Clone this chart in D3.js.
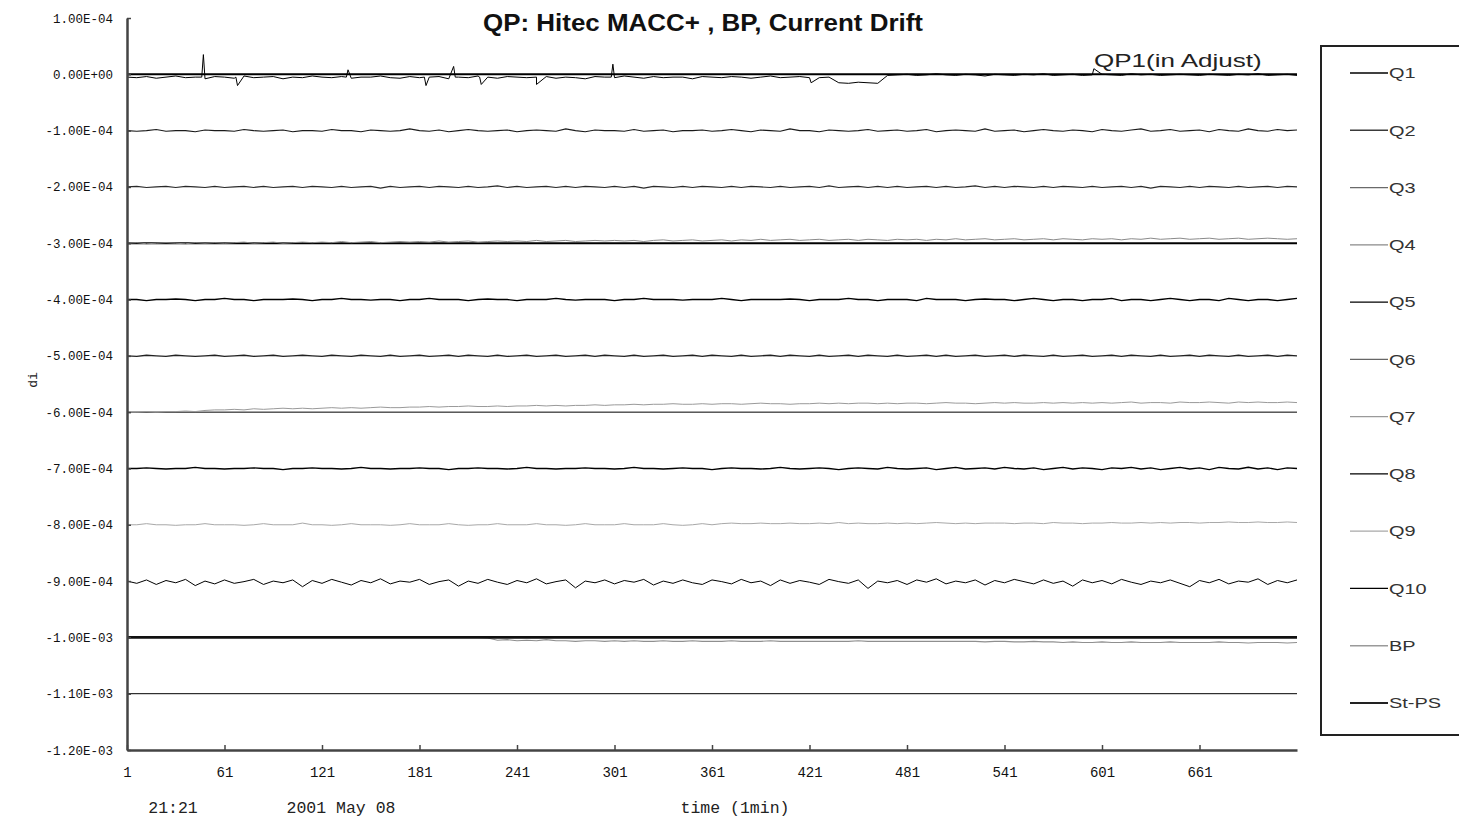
<!DOCTYPE html>
<html><head><meta charset="utf-8">
<script src="https://cdn.jsdelivr.net/npm/d3@7"></script>
<style>
html,body{margin:0;padding:0;background:#fff;}
svg{display:block;}
</style></head>
<body>
<svg id="chart" width="1459" height="820"></svg>
<script>
// ---------- DATA ----------
const title = "QP: Hitec MACC+ , BP, Current Drift";
const seriesNames = ["Q1","Q2","Q3","Q4","Q5","Q6","Q7","Q8","Q9","Q10","BP","St-PS"];
const seriesOffsets = [0,-1e-4,-2e-4,-3e-4,-4e-4,-5e-4,-6e-4,-7e-4,-8e-4,-9e-4,-1e-3,-1e-3];
// sample minutes (every 6 min from 1 to 721)
const sampleMinutes = d3.range(1, 722, 6);
// deviations from offset, in units of 1e-6, one per sample minute
const q1 = [-5,-6,-4,-7,-5,-3,-6,-5,-8,-4, -5,-7,-3,-6,-5,-4,-8,-5,-6,-3, -5,-6,-4,-7,-5,-5,-3,-6,-7,-4,
  -6,-5,-4,-8,-5,-6,-3,-5,-7,-4, -5,-6,-5,-4,-7,-5,-6,-8,-4,-5, -6,-3,-5,-7,-4,-6,-5,-5,-8,-4,
  -5,-6,-4,-5,-7,-5,-3,-6,-5,-4, -6,-6,-5,-15,-16,-14,-15,-16,-2,-1, 0,-2,-1,1,-1,-2,0,-1,-3,0,
  -1,-2,0,-1,1,-2,-1,0,-2,-1, 0,-1,-2,1,-1,0,-2,-1,0,-1, -2,0,-1,-2,0,-1,1,-2,-1,0,-2];
// extra short events for Q1: [minute, deviation]
const q1Spikes = [[47,-5],[48,35],[68,-5],[69,-20],[136,-5],[137,8],[184,-5],[185,-20],[202,14],[203,-5],
  [218,-5],[219,-18],[253,-18],[299,-5],[300,18],[422,-15],[596,10]];
const q2 = [0,-1,0,2,-1,0,0,-2,1,0, 0,-1,2,0,-1,0,1,-2,0,0, -1,2,0,0,-2,1,0,-1,0,3, 0,-1,1,-2,0,2,0,-1,0,1,
  -2,0,1,0,-1,3,0,-2,1,0, 0,-1,2,-1,0,1,-2,0,0,1, -1,0,2,0,-2,1,0,-1,3,0, 0,-2,1,0,-1,0,2,-1,0,1,
  -1,0,2,-2,0,1,0,-1,3,-1, 0,1,-2,0,2,0,-1,1,0,-2, 2,0,-1,1,3,-1,0,2,-1,0, 1,-2,2,0,-1,3,0,-1,2,0,1];
const q3 = [0,1,-1,0,1,-1,1,0,-1,1, -1,0,1,-1,1,-1,0,1,-1,1, 0,-1,1,-1,0,1,-2,1,-1,0, 1,-1,1,0,-1,1,-1,0,2,-1,
  1,-1,0,1,-1,1,-1,1,0,-1, 1,-1,1,-2,1,0,-1,1,-1,1, 0,-1,1,-1,1,0,-1,1,-1,0, 1,-1,2,-1,0,1,-1,1,-1,1,
  -1,0,1,-1,1,-1,0,2,-1,1, -1,1,0,-1,1,-1,1,0,-1,1, -1,0,1,-1,1,-2,1,0,-1,1, -1,1,0,-1,1,-1,0,1,-1,1,0];
const q4 = [0,1,-1,0,1,0,-1,1,0,1, 0,1,2,0,1,2,0,1,2,1, 2,1,3,1,2,3,1,2,3,2, 3,2,4,2,3,4,2,3,4,3,
  4,3,5,3,4,5,3,4,5,4, 5,4,5,3,5,6,4,5,6,4, 5,6,4,6,5,7,5,6,7,5, 6,7,5,6,7,5,7,6,5,7,
  6,7,5,7,6,8,6,7,8,6, 7,8,6,7,8,6,8,7,6,8, 7,8,6,8,7,9,7,8,9,7, 8,9,7,8,9,7,8,9,8,7,8];
const q5 = [0,0,-2,0,0,1,0,-2,0,0, 2,0,0,-2,0,0,0,1,0,-2, 0,0,2,0,0,-1,0,0,-2,0, 0,2,0,0,0,-2,0,1,0,0,
  -2,0,0,0,2,0,-1,0,0,0, -2,0,0,2,0,0,0,-1,0,0, 0,2,0,-2,0,0,0,0,1,0, -2,0,0,0,2,0,0,-2,0,0,
  0,-2,2,0,0,0,-2,0,1,0, 0,-2,0,2,0,-2,0,0,-2,0, 0,2,-2,0,0,-2,0,2,0,-2, 0,0,-2,2,0,-2,0,0,-2,0,2];
const q6 = [0,-1,1,0,-1,1,0,-1,0,1, -1,0,1,-1,0,1,-1,0,1,0, -1,1,0,-1,1,0,-1,1,-1,0, 1,-1,0,1,-1,1,0,-1,1,-1,
  0,1,-1,0,1,-1,0,1,-1,1, 0,-1,1,-1,0,1,-1,0,1,-1, 1,0,-1,1,-1,0,1,-1,1,0, -1,1,-1,0,1,-1,1,0,-1,1,
  -1,0,1,-1,1,-1,0,1,-1,0, 1,-1,1,0,-1,1,-1,0,1,-1, 0,1,-1,1,0,-1,1,-1,0,1, -1,1,0,-1,1,-1,0,1,-1,1,0];
const q7 = [0,0,1,0,1,1,2,1,3,4, 4,5,4,6,5,6,7,6,7,6, 7,8,7,8,7,8,9,8,8,9, 9,10,9,10,10,11,10,10,11,10,
  11,11,12,11,12,11,12,12,13,12, 13,13,14,13,14,14,15,14,14,15, 14,15,15,14,15,16,15,15,14,15,
  15,16,15,16,15,16,16,15,16,15, 16,16,15,16,17,16,16,15,16,17, 16,17,16,16,17,16,17,16,17,16,
  17,16,17,18,16,17,17,16,18,17, 17,18,17,16,18,17,18,17,17,18,17];
const q8 = [0,0,1,0,-1,0,0,2,0,0, -1,0,0,1,0,0,-2,0,0,1, 0,0,-1,0,2,0,0,-1,0,0, 1,0,0,-2,0,0,1,0,0,-1,
  0,2,0,0,-1,0,0,1,0,0, -1,0,2,0,0,-1,0,1,0,0, -2,0,1,0,0,-1,0,2,0,-1, 0,1,0,-2,0,1,0,-1,2,0,
  -1,0,1,-2,0,2,-1,0,1,-1, 2,0,-1,1,-2,0,2,-1,1,0, -2,1,0,2,-1,1,-2,0,2,-1, 1,-2,2,0,-1,2,-1,1,-2,1,0];
const q9 = [0,0,2,0,0,-1,0,0,2,0, 0,0,-1,0,2,0,0,0,3,0, 0,-1,0,2,0,0,0,-1,0,2, 0,0,0,2,0,-1,0,0,2,0,
  0,0,2,0,0,-1,0,2,0,0, 0,2,0,0,0,2,0,-1,0,2, 0,2,3,2,2,3,2,2,3,2, 2,3,2,4,2,3,2,2,3,2,
  3,2,3,4,3,2,3,2,3,3, 3,2,3,3,2,4,3,3,2,3, 3,4,3,3,4,3,4,3,4,4, 3,4,4,5,4,4,5,4,4,5,4];
const q10 = [0,-4,2,-6,1,-3,3,-8,0,-5, 2,-4,-1,3,-6,0,-3,2,-10,1, -4,3,-2,-7,1,-3,4,-5,0,-2,
  3,-6,-1,2,-9,0,-4,3,-2,-6, 1,-3,4,-5,-1,2,-12,0,-3,2, -5,1,-2,3,-7,0,-4,2,-3,-6,
  2,-1,-5,3,-3,0,-8,2,-4,1, -2,-6,3,-1,-4,2,-13,0,-3,1, -6,2,-2,4,-5,0,-3,2,-7,1,
  -3,3,-1,-5,2,-4,0,-9,2,-3, 1,-5,3,-2,-6,0,-3,2,-4,-10, 1,-3,3,-5,0,-2,4,-6,1,-3,2];
const bp = [0,0,0,0,0,0,0,0,0,0, 0,0,0,0,0,0,0,0,0,0, 0,0,0,0,0,0,0,0,0,0, 0,0,0,0,0,0,0,-1,-5,-4,
  -6,-5,-6,-4,-6,-6,-7,-6,-6,-7, -6,-7,-6,-7,-7,-6,-7,-7,-6,-7, -7,-7,-6,-7,-7,-7,-6,-7,-7,-7,
  -7,-7,-7,-7,-7,-6,-7,-7,-7,-7, -7,-7,-7,-7,-7,-7,-7,-7,-8,-7, -7,-8,-8,-7,-8,-8,-9,-8,-9,-9,
  -8,-9,-9,-8,-9,-9,-9,-8,-9,-9, -9,-9,-8,-9,-9,-10,-9,-9,-9,-10,-9];
const stps = [0,0,0,0,0,0,0,0,0,0, 0,0,0,0,0,0,0,0,0,0, 0,0,0,0,0,0,0,0,0,0, 0,0,0,0,0,0,0,0,0,0,
  0,0,0,0,0,0,0,0,0,0, 0,0,0,0,0,0,0,0,0,0, 0,0,0,0,0,0,0,0,0,0, 0,0,0,0,0,0,0,0,0,0,
  0,0,0,0,0,0,0,0,0,0, 0,0,0,0,0,0,0,0,0,0, 0,0,0,0,0,0,0,0,0,0, 0,0,0,0,0,0,0,0,0,0,0];
const seriesDevs = [q1,q2,q3,q4,q5,q6,q7,q8,q9,q10,bp,stps];
// reference (zero-drift) lines
const refLevels = [0,-3e-4,-6e-4,-1.1e-3];
const yTicks = [1e-4,0,-1e-4,-2e-4,-3e-4,-4e-4,-5e-4,-6e-4,-7e-4,-8e-4,-9e-4,-1e-3,-1.1e-3,-1.2e-3];
const yTickLabels = ["1.00E-04","0.00E+00","-1.00E-04","-2.00E-04","-3.00E-04","-4.00E-04","-5.00E-04",
  "-6.00E-04","-7.00E-04","-8.00E-04","-9.00E-04","-1.00E-03","-1.10E-03","-1.20E-03"];
const xTicks = [1,61,121,181,241,301,361,421,481,541,601,661];

// ---------- STYLE ----------
const lineColors = ["#000","#1a1a1a","#2a2a2a","#8a8a8a","#000","#222","#9a9a9a","#000","#a8a8a8","#000","#8f8f8f","#111"];
const legendColors = ["#000","#3a3a3a","#6a6a6a","#8a8a8a","#000","#666","#9a9a9a","#000","#a8a8a8","#000","#9a9a9a","#222"];
const widths = [1,1.1,1.2,1,1.4,1.4,1,1.4,1,1,1.1,2.6];
const refWidths = [2,2,1,1];
const sans = "Liberation Sans, Arial, sans-serif";
const mono = "Liberation Mono, monospace";

const svg = d3.select("#chart");
const x = d3.scaleLinear().domain([1,721]).range([127,1297]);
const y = d3.scaleLinear().domain([-1.2e-3,1e-4]).range([750,18]);

// title
svg.append("text").attr("x",483).attr("y",31)
  .attr("font-family",sans).attr("font-weight","bold")
  .attr("font-size",23).attr("fill","#111")
  .attr("textLength",440).attr("lengthAdjust","spacingAndGlyphs").text(title);

// reference lines
svg.append("g").selectAll("line").data(refLevels).join("line")
  .attr("x1",x(1)).attr("x2",x(721)).attr("y1",d=>y(d)).attr("y2",d=>y(d))
  .attr("stroke","#000").attr("stroke-width",(d,i)=>refWidths[i]);

// series
const line = d3.line().x(d=>x(d.t)).y(d=>y(d.v));
seriesNames.forEach((name,si)=>{
  let pts = seriesDevs[si].map((dv,i)=>({t:sampleMinutes[i], v:seriesOffsets[si]+dv*1e-6}));
  if(si===0){
    q1Spikes.forEach(([t,dv])=>pts.push({t:t, v:seriesOffsets[0]+dv*1e-6}));
    pts.sort((a,b)=>a.t-b.t);
  }
  svg.append("path").datum(pts).attr("d",line).attr("fill","none")
    .attr("stroke",lineColors[si]).attr("stroke-width",widths[si]).attr("stroke-linejoin","miter");
});

// axes
const yAxis = d3.axisLeft(y).tickValues(yTicks).tickFormat((d,i)=>yTickLabels[i])
  .tickSizeInner(-4).tickSizeOuter(0).tickPadding(14);
const gy = svg.append("g").attr("transform","translate(127,0)").call(yAxis);
gy.selectAll("text").attr("font-family",mono).attr("font-size",12.5).attr("fill","#111");

const xAxis = d3.axisBottom(x).tickValues(xTicks).tickFormat(d3.format("d"))
  .tickSizeInner(-5).tickSizeOuter(0).tickPadding(17);
const gx = svg.append("g").attr("transform","translate(0,750)").call(xAxis);
gx.selectAll("text").attr("font-family",mono).attr("font-size",14).attr("fill","#111");
[gy,gx].forEach(g=>{
  g.select(".domain").attr("stroke","#444").attr("stroke-width",2.5);
  g.selectAll(".tick line").attr("stroke","#444").attr("stroke-width",1.5);
});

// axis titles
svg.append("text").attr("transform","translate(37,380) rotate(-90)").attr("text-anchor","middle")
  .attr("font-family",mono).attr("font-size",13).attr("fill","#222").text("di");
svg.append("text").attr("x",173).attr("y",813).attr("text-anchor","middle")
  .attr("font-family",mono).attr("font-size",16.5).attr("fill","#222").text("21:21");
svg.append("text").attr("x",341).attr("y",813).attr("text-anchor","middle")
  .attr("font-family",mono).attr("font-size",16.5).attr("fill","#222").text("2001 May 08");
svg.append("text").attr("x",735).attr("y",813).attr("text-anchor","middle")
  .attr("font-family",mono).attr("font-size",16.5).attr("fill","#222").text("time (1min)");

// annotation
svg.append("text").attr("transform","translate(1094,67) scale(1.37,1)")
  .attr("font-family",sans).attr("font-size",19).attr("fill","#222")
  .text("QP1(in Adjust)");

// legend
const lg = svg.append("g");
lg.append("rect").attr("x",1321).attr("y",46).attr("width",150).attr("height",689)
  .attr("fill","#fff").attr("stroke","#222").attr("stroke-width",2);
const legendY = d3.scalePoint().domain(seriesNames).range([73,703]);
const items = lg.selectAll("g.item").data(seriesNames).join("g").attr("class","item")
  .attr("transform",d=>`translate(0,${legendY(d)})`);
items.append("line").attr("x1",1350).attr("x2",1388).attr("y1",0).attr("y2",0)
  .attr("stroke",(d,i)=>legendColors[i]).attr("stroke-width",(d,i)=>i===11?2.2:1.3);
items.append("text").attr("transform","translate(1389,0) scale(1.33,1)").attr("dy","0.35em")
  .attr("font-family",sans).attr("font-size",15).attr("fill","#333")
  .text(d=>d);
</script>
</body></html>
